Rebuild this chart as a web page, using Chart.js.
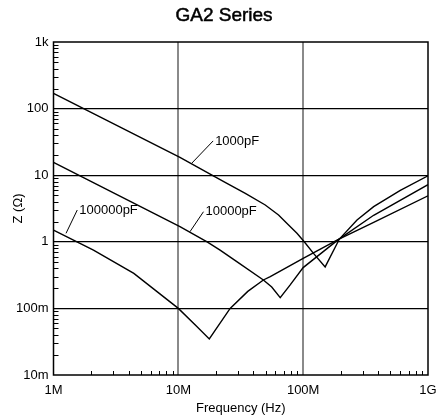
<!DOCTYPE html>
<html>
<head>
<meta charset="utf-8">
<script src="https://cdn.jsdelivr.net/npm/chart.js@4/dist/chart.umd.min.js"></script>
<style>
  html, body { margin: 0; padding: 0; background: #fff; }
  canvas { display: block; }
</style>
</head>
<body>
<canvas id="grafico" width="437" height="420"></canvas>
<script>
// GA2 Series: impedancia x frequencia, eixos log-log

const titulo = 'GA2 Series';
const series = ['1000pF', '10000pF', '100000pF'];

// curvas (Hz, ohm)
const freq1000   = [1e6, 10.3e6, 18.6e6, 23.7e6, 34.4e6, 49.7e6, 63.5e6, 76.4e6, 89.2e6, 102e6, 121e6, 150e6, 195e6, 270e6, 367e6, 600e6, 1e9];
const z1000      = [170, 18.5, 10, 7.8, 5.35, 3.57, 2.52, 1.79, 1.34, 1.0, 0.67, 0.42, 1.1, 2.12, 3.37, 5.9, 9.8];

const freq10000  = [1e6, 10.3e6, 17e6, 21.6e6, 30e6, 48e6, 56e6, 65.5e6, 79e6, 100e6, 190e6, 367e6, 1e9];
const z10000     = [15.6, 1.69, 1.0, 0.75, 0.49, 0.267, 0.21, 0.145, 0.227, 0.41, 1.07, 2.5, 7.2];

const freq100000 = [1e6, 2.09e6, 4.4e6, 10e6, 14e6, 17.7e6, 26e6, 36e6, 48e6, 54.5e6, 100e6, 190e6, 367e6, 1e9];
const z100000    = [1.5, 0.75, 0.336, 0.1, 0.054, 0.0348, 0.1, 0.18, 0.267, 0.30, 0.565, 1.08, 1.95, 4.9];

// eixos
const xMajor  = [1e6, 1e7, 1e8, 1e9];
const xLabels = ['1M', '10M', '100M', '1G'];
const yMajor  = [0.01, 0.1, 1, 10, 100, 1000];
const yLabels = ['10m', '100m', '1', '10', '100', '1k'];

// rotulos das curvas: [texto, f inicio, z inicio, f fim, z fim]
const rotulos = [
  ['1000pF',   12.8e6, 15.1, 19e6,   32.7],
  ['10000pF',  12.4e6, 1.42, 15.9e6, 2.83],
  ['100000pF', 1.26e6, 1.34, 1.55e6, 3.0],
];

const fonte = '"Liberation Sans", Arial, Helvetica, sans-serif';

function menores(majors) {
  const out = [];
  for (let i = 0; i < majors.length - 1; i++) {
    for (let k = 2; k <= 9; k++) out.push(majors[i] * k);
  }
  return out;
}
const xMinor = menores(xMajor);
const yMinor = menores(yMajor);

function pontos(fs, zs) {
  return fs.map((f, i) => ({ x: f, y: zs[i] }));
}

const extras = {
  id: 'extras',
  afterDraw(chart) {
    const { ctx, chartArea: a, scales: { x, y } } = chart;
    ctx.save();
    ctx.strokeStyle = '#000';

    // pequenos tracos para dentro
    ctx.lineWidth = 1;
    ctx.beginPath();
    xMinor.forEach(v => {
      const px = Math.round(x.getPixelForValue(v)) + 0.5;
      ctx.moveTo(px, a.bottom);
      ctx.lineTo(px, a.bottom - 4);
    });
    yMinor.forEach(v => {
      const py = Math.round(y.getPixelForValue(v)) + 0.5;
      ctx.moveTo(a.left, py);
      ctx.lineTo(a.left + 5, py);
    });
    ctx.stroke();

    // moldura
    ctx.lineWidth = 1.5;
    ctx.strokeRect(a.left, a.top, a.right - a.left, a.bottom - a.top);

    // rotulos com linha guia
    ctx.lineWidth = 1;
    ctx.fillStyle = '#000';
    ctx.font = '13px ' + fonte;
    ctx.textBaseline = 'middle';
    ctx.textAlign = 'left';
    rotulos.forEach(([txt, f0, z0, f1, z1]) => {
      const x0 = x.getPixelForValue(f0), y0 = y.getPixelForValue(z0);
      const x1 = x.getPixelForValue(f1), y1 = y.getPixelForValue(z1);
      ctx.beginPath();
      ctx.moveTo(x0, y0);
      ctx.lineTo(x1, y1);
      ctx.stroke();
      ctx.fillText(txt, x1 + 2, y1);
    });

    // titulo
    ctx.font = '19px ' + fonte;
    ctx.textAlign = 'center';
    ctx.lineWidth = 0.5;
    ctx.fillText(titulo, 224, 16);
    ctx.strokeText(titulo, 224, 16);
    ctx.restore();
  },
};

const estiloLinha = { borderColor: '#000', borderWidth: 1.4, pointRadius: 0, showLine: true, tension: 0, fill: false };

new Chart(document.getElementById('grafico'), {
  type: 'scatter',
  data: {
    datasets: [
      { label: series[0], data: pontos(freq1000, z1000), ...estiloLinha },
      { label: series[1], data: pontos(freq10000, z10000), ...estiloLinha },
      { label: series[2], data: pontos(freq100000, z100000), ...estiloLinha },
    ],
  },
  options: {
    responsive: false,
    animation: false,
    devicePixelRatio: 1,
    layout: { padding: { top: 42, right: 9, bottom: 0, left: 0 } },
    plugins: { legend: { display: false }, tooltip: { enabled: false }, title: { display: false } },
    scales: {
      x: {
        type: 'logarithmic',
        min: 1e6,
        max: 1e9,
        afterBuildTicks: (s) => { s.ticks = xMajor.concat(xMinor).sort((p, q) => p - q).map(v => ({ value: v })); },
        afterFit: (s) => { s.height = 45; s.paddingLeft = 0; s.paddingRight = 0; },
        border: { display: false },
        grid: {
          drawTicks: false,
          color: (c) => (c.tick && (c.tick.value === 1e7 || c.tick.value === 1e8)) ? '#8a8a8a' : 'rgba(0,0,0,0)',
          lineWidth: 2,
        },
        ticks: {
          autoSkip: false,
          maxRotation: 0,
          padding: 8,
          color: '#000',
          font: { family: fonte, size: 13 },
          callback: (v) => { const i = xMajor.indexOf(v); return i >= 0 ? xLabels[i] : ''; },
        },
        title: { display: true, text: 'Frequency (Hz)', color: '#000', font: { family: fonte, size: 13 }, padding: { top: 0, bottom: 4 } },
      },
      y: {
        type: 'logarithmic',
        min: 0.01,
        max: 1000,
        afterBuildTicks: (s) => { s.ticks = yMajor.concat(yMinor).sort((p, q) => p - q).map(v => ({ value: v })); },
        afterFit: (s) => { s.width = 53.5; s.paddingTop = 0; s.paddingBottom = 0; },
        border: { display: false },
        grid: {
          drawTicks: false,
          color: (c) => (c.tick && yMajor.indexOf(c.tick.value) > 0 && yMajor.indexOf(c.tick.value) < yMajor.length - 1) ? '#000' : 'rgba(0,0,0,0)',
          lineWidth: 1.2,
        },
        ticks: {
          autoSkip: false,
          padding: 5,
          color: '#000',
          font: { family: fonte, size: 13 },
          callback: (v) => { const i = yMajor.findIndex(m => Math.abs(m - v) < m * 1e-6); return i >= 0 ? yLabels[i] : ''; },
        },
        title: { display: true, text: 'Z (Ω)', color: '#000', font: { family: fonte, size: 13 }, padding: { top: 11, bottom: 0 } },
      },
    },
  },
  plugins: [extras],
});
</script>
</body>
</html>
